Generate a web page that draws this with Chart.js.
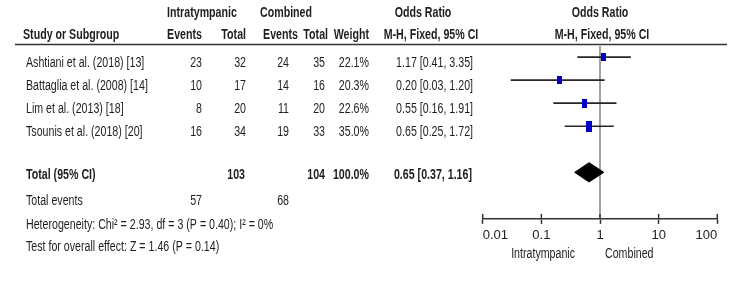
<!DOCTYPE html>
<html>
<head>
<meta charset="utf-8">
<script src="https://cdn.jsdelivr.net/npm/chart.js@4.4.1/dist/chart.umd.min.js"></script>
<style>
  body { margin: 0; background: #fff; }
  canvas { display: block; }
</style>
</head>
<body>
<canvas id="forest" width="750" height="290"></canvas>
<script>
// study data
const studies = ['Ashtiani et al. (2018) [13]', 'Battaglia et al. (2008) [14]', 'Lim et al. (2013) [18]', 'Tsounis et al. (2018) [20]'];
const intEvents = [23, 10, 8, 16];
const intTotal = [32, 17, 20, 34];
const combEvents = [24, 14, 11, 19];
const combTotal = [35, 16, 20, 33];
const weights = [22.1, 20.3, 22.6, 35.0];
const orEst = [1.17, 0.20, 0.55, 0.65];
const ciLow = [0.41, 0.03, 0.16, 0.25];
const ciHigh = [3.35, 1.20, 1.91, 1.72];

// pooled result
const totalInt = 103;
const totalComb = 104;
const totalIntEvents = 57;
const totalCombEvents = 68;
const totalWeight = 100.0;
const pooledEst = 0.65;
const pooledLow = 0.37;
const pooledHigh = 1.16;
const heterogeneity = 'Heterogeneity: Chi² = 2.93, df = 3 (P = 0.40); I² = 0%';
const overallTest = 'Test for overall effect: Z = 1.46 (P = 0.14)';

// axis
const tickVals = [0.01, 0.1, 1, 10, 100];
const tickLabels = ['0.01', '0.1', '1', '10', '100'];

// no narrow font installed, so squeeze Liberation Sans sideways
const FONT = '"Liberation Sans", Arial, sans-serif';
const FSIZE = 14;
const SX = 0.76;
const TXT = '#1e1e1e';
const totalRow = 5;

function fmt(v) { return v.toFixed(2); }
function orText(e, l, h) { return fmt(e) + ' [' + fmt(l) + ', ' + fmt(h) + ']'; }

// squares sized by weight (area ~ weight)
function makeSquare(w) {
  const c = document.createElement('canvas');
  c.width = Math.round(Math.sqrt(w) * 1.05);
  c.height = Math.round(Math.sqrt(w) * 1.8);
  const g = c.getContext('2d');
  g.fillStyle = '#0000c8';
  g.fillRect(0, 0, c.width, c.height);
  return c;
}

const datasets = [];

// squares
datasets.push({
  type: 'scatter',
  data: orEst.map((v, i) => ({ x: v, y: i })),
  pointStyle: weights.map(makeSquare),
  pointRadius: 5,
  order: 1
});

// diamond
const dh = 0.42;
datasets.push({
  type: 'line',
  data: [
    { x: pooledLow, y: totalRow }, { x: pooledEst, y: totalRow - dh },
    { x: pooledHigh, y: totalRow }, { x: pooledEst, y: totalRow + dh },
    { x: pooledLow, y: totalRow }
  ],
  borderColor: '#000',
  borderWidth: 1,
  backgroundColor: '#000',
  fill: 'shape',
  pointRadius: 0,
  tension: 0,
  order: 2
});

// confidence intervals
studies.forEach((s, i) => {
  datasets.push({
    type: 'line',
    data: [{ x: ciLow[i], y: i }, { x: ciHigh[i], y: i }],
    borderColor: '#262626',
    borderWidth: 1.7,
    pointRadius: 0,
    order: 3
  });
});

// line of no effect
const yMin = -0.48, yMax = 7.02;
datasets.push({
  type: 'line',
  data: [{ x: 1, y: yMin }, { x: 1, y: yMax }],
  borderColor: '#8a8a8a',
  borderWidth: 1.6,
  pointRadius: 0,
  order: 4
});

// table text + upper tick marks
const tablePlugin = {
  id: 'table',
  afterDraw(chart) {
    const ctx = chart.ctx;
    const ys = chart.scales.y, xs = chart.scales.x;
    const base = r => ys.getPixelForValue(r) + 10;
    function t(str, x, r, align, bold) {
      ctx.save();
      ctx.translate(x, base(r));
      ctx.scale(SX, 1);
      ctx.font = (bold ? 'bold ' : '') + FSIZE + 'px ' + FONT;
      ctx.textAlign = align;
      ctx.textBaseline = 'alphabetic';
      ctx.fillStyle = TXT;
      ctx.fillText(str, 0, 0);
      ctx.restore();
    }

    // headers
    t('Intratympanic', 202, -2.16, 'center', true);
    t('Combined', 286, -2.16, 'center', true);
    t('Odds Ratio', 423, -2.16, 'center', true);
    t('Odds Ratio', 600, -2.16, 'center', true);
    t('Study or Subgroup', 23, -1.2, 'left', true);
    t('Events', 202, -1.2, 'right', true);
    t('Total', 246, -1.2, 'right', true);
    t('Events', 298, -1.2, 'right', true);
    t('Total', 328, -1.2, 'right', true);
    t('Weight', 369, -1.2, 'right', true);
    t('M-H, Fixed, 95% CI', 431, -1.2, 'center', true);
    t('M-H, Fixed, 95% CI', 602, -1.2, 'center', true);

    // header rule
    ctx.save();
    ctx.strokeStyle = '#333';
    ctx.lineWidth = 1.4;
    ctx.beginPath();
    ctx.moveTo(15, 44.5);
    ctx.lineTo(727, 44.5);
    ctx.stroke();
    ctx.restore();

    // study rows
    studies.forEach((s, i) => {
      t(s, 26, i, 'left');
      t(String(intEvents[i]), 202, i, 'right');
      t(String(intTotal[i]), 246, i, 'right');
      t(String(combEvents[i]), 289, i, 'right');
      t(String(combTotal[i]), 325, i, 'right');
      t(weights[i].toFixed(1) + '%', 369, i, 'right');
      t(orText(orEst[i], ciLow[i], ciHigh[i]), 473, i, 'right');
    });

    // totals
    t('Total (95% CI)', 26, 4.87, 'left', true);
    t(String(totalInt), 245, 4.87, 'right', true);
    t(String(totalComb), 325, 4.87, 'right', true);
    t(totalWeight.toFixed(1) + '%', 369, 4.87, 'right', true);
    t(orText(pooledEst, pooledLow, pooledHigh), 472, 4.87, 'right', true);
    t('Total events', 26, 6.0, 'left');
    t(String(totalIntEvents), 202, 6.0, 'right');
    t(String(totalCombEvents), 289, 6.0, 'right');
    t(heterogeneity, 26, 7.01, 'left');
    t(overallTest, 26, 8.0, 'left');

    // favours labels
    const one = xs.getPixelForValue(1);
    t('Intratympanic', one - 25, 8.27, 'right');
    t('Combined', one + 5, 8.27, 'left');

    // tick marks above the axis line
    ctx.save();
    ctx.strokeStyle = '#333';
    ctx.lineWidth = 1.5;
    tickVals.forEach(v => {
      const px = xs.getPixelForValue(v);
      ctx.beginPath();
      ctx.moveTo(px, chart.chartArea.bottom - 5);
      ctx.lineTo(px, chart.chartArea.bottom);
      ctx.stroke();
    });
    ctx.restore();
  }
};

const chart = new Chart(document.getElementById('forest'), {
  type: 'scatter',
  data: { datasets },
  plugins: [tablePlugin],
  options: {
    responsive: false,
    animation: false,
    devicePixelRatio: 1,
    layout: { padding: { left: 482.7, right: 32.7, top: 46, bottom: 42.5 } },
    plugins: { legend: { display: false }, tooltip: { enabled: false } },
    scales: {
      x: {
        type: 'logarithmic',
        min: 0.01,
        max: 100,
        afterBuildTicks: scale => { scale.ticks = tickVals.map(v => ({ value: v })); },
        border: { display: true, color: '#333', width: 1.5 },
        grid: { drawOnChartArea: false, drawTicks: true, tickLength: 5, tickColor: '#333', tickWidth: 1.5 },
        ticks: {
          autoSkip: false,
          maxRotation: 0,
          align: 'inner',
          padding: 4,
          color: TXT,
          font: { family: FONT, size: 13 },
          callback: (v, i) => tickLabels[i]
        }
      },
      y: { display: false, reverse: true, min: yMin, max: yMax }
    }
  }
});
</script>
</body>
</html>
